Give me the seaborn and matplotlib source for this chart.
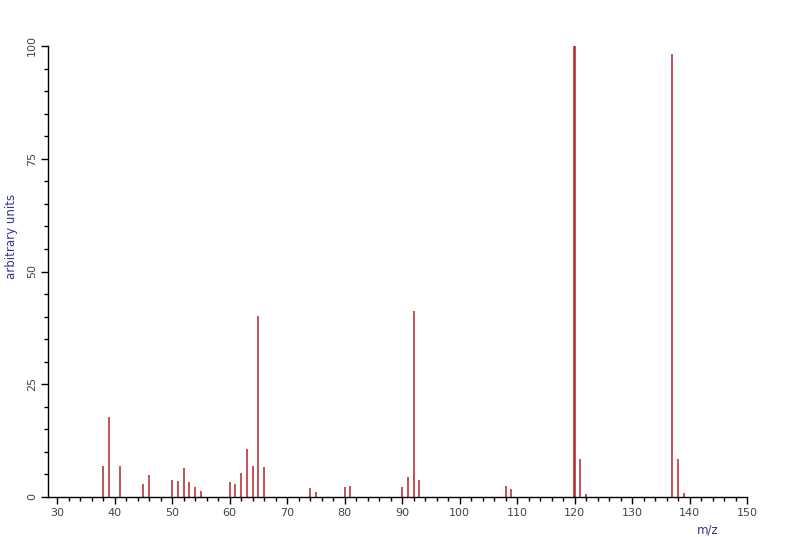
import matplotlib
matplotlib.use("Agg")
import matplotlib.pyplot as plt
import seaborn as sns
import pandas as pd
from matplotlib.ticker import MultipleLocator

mz = [38, 39, 41, 45, 46, 50, 51, 52, 53, 54, 55, 60, 61, 62, 63, 64, 65, 66,
      74, 75, 80, 81, 90, 91, 92, 93, 108, 109, 120, 121, 122, 137, 138, 139]
intensity = [6.9, 17.8, 6.8, 2.9, 4.9, 3.8, 3.5, 6.5, 3.4, 2.3, 1.4, 3.3, 2.9, 5.4,
             10.7, 6.8, 40.1, 6.6, 1.9, 1.1, 2.3, 2.4, 2.3, 4.4, 41.2, 3.8,
             2.4, 1.7, 100.0, 8.5, 0.7, 98.3, 8.5, 0.9]

x_ticks = list(range(30, 151, 10))
y_ticks = [0, 25, 50, 75, 100]

sns.set_style("white")
plt.rcParams['font.family'] = ['DejaVu Sans']

df = pd.DataFrame({"mz": mz, "intensity": intensity})

fig = plt.figure(figsize=(7.94, 5.37), dpi=100)
ax = fig.add_axes([48 / 794, 1 - 497 / 537, (747 - 48) / 794, (497 - 46) / 537])

bar_color = "#b82228"
sns.barplot(data=df, x="mz", y="intensity", native_scale=True, width=0.02,
            color=bar_color, saturation=1, edgecolor=bar_color, linewidth=1.1,
            ax=ax)

ax.set_xlim(28.4, 150)
ax.set_ylim(0, 100)

for s in ["top", "right"]:
    ax.spines[s].set_visible(False)
for s in ["left", "bottom"]:
    ax.spines[s].set_color("black")
    ax.spines[s].set_linewidth(1)
    ax.spines[s].set_zorder(5)

ax.set_xticks(x_ticks)
ax.set_xticklabels([str(t) for t in x_ticks])
ax.xaxis.set_minor_locator(MultipleLocator(2))
ax.set_yticks(y_ticks)
ax.set_yticklabels([str(t) for t in y_ticks], rotation=90, va="center")
ax.yaxis.set_minor_locator(MultipleLocator(5))

ax.tick_params(axis="both", which="major", direction="out", length=5, width=1,
               color="black", labelsize=8, labelcolor="#444444", pad=3,
               bottom=True, left=True)
ax.tick_params(axis="both", which="minor", direction="out", length=3, width=1,
               color="black", bottom=True, left=True)

ax.set_xlabel("")
ax.set_ylabel("")
fig.text(708 / 794, 1 - 530 / 537, "m/z", color="#333399", fontsize=8.5,
         ha="center", va="center")
fig.text(12 / 794, 1 - 236 / 537, "arbitrary units", color="#333399", fontsize=8.5,
         ha="center", va="center", rotation=90)

fig.savefig("out.png", dpi=100, facecolor="white")
